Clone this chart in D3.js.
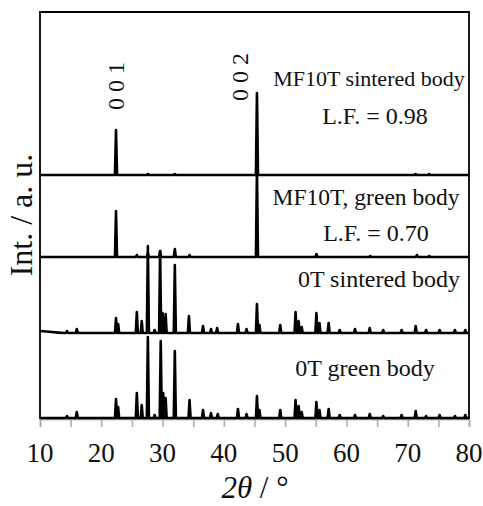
<!DOCTYPE html>
<html><head><meta charset="utf-8">
<script src="https://cdn.jsdelivr.net/npm/d3@7"></script>
<style>body{margin:0;background:#fff}svg{display:block}text{font-family:"Liberation Serif","Times New Roman",serif}</style>
</head><body>
<script>
// ---- data (2θ in degrees, intensity in a.u.) ----
const xTicks = [10, 20, 30, 40, 50, 60, 70, 80];
const xMinorTicks = [10,15,20,25,30,35,40,45,50,55,60,65,70,75,80];
const seriesNames = ["0T green body", "0T sintered body", "MF10T, green body", "MF10T sintered body"];
const seriesOffsets = [1, 86, 162, 244];
// peaks: [2θ, height]
const peaks0TGreen = [[14.4,2],[16.0,6],[22.4,19],[22.75,11],[25.8,25],[26.6,13],[27.6,81],[28.7,3],[29.7,77],[30.1,25],[30.5,20],[32.0,67],[34.4,18],[36.6,8],[37.9,5],[39.0,4],[42.3,9],[43.7,4],[45.4,22],[45.8,8],[49.2,8],[51.7,18],[52.2,12],[52.7,6],[55.1,16],[55.6,8],[57.1,9],[58.9,3],[61.4,3],[63.8,4],[66.0,2],[69.0,3],[71.3,7],[73.0,2],[75.2,3],[77.7,2],[79.4,3]];
const peaks0TSint = [[14.4,2],[16.0,4],[22.4,15],[22.75,9],[25.8,21],[26.6,12],[27.6,87],[28.7,3],[29.6,82],[30.0,20],[30.5,19],[32.0,68],[34.3,17],[36.6,7],[37.9,4],[38.9,5],[42.3,9],[43.7,4],[45.4,29],[45.8,8],[49.2,8],[51.7,21],[52.2,12],[52.7,6],[55.1,20],[55.6,10],[57.1,10],[58.9,3],[61.4,4],[63.8,5],[66.0,3],[69.0,3],[71.3,7],[73.0,3],[75.2,3],[77.7,3],[79.4,3]];
const rise0TSint = [[10,2],[11.5,1.2],[13,0.4],[14,0]];
const peaksMFGreen = [[22.4,46],[25.8,2],[27.6,4],[29.6,6],[32.0,8],[34.4,2],[45.4,88],[55.1,3],[63.9,1],[71.5,2],[73.5,1]];
const peaksMFSint = [[22.4,45],[27.6,1],[32.0,1],[45.4,82],[71.3,1],[73.5,1]];
const axisTitleX = ["2θ", " / °"];
const axisTitleY = "Int. / a. u.";
const labels = [
  {t:"MF10T sintered body", x:369, y:86, s:22},
  {t:"L.F. = 0.98", x:375, y:124, s:24},
  {t:"MF10T, green body", x:366, y:205, s:23.5},
  {t:"L.F. = 0.70", x:376, y:241, s:24},
  {t:"0T sintered body", x:379, y:287, s:24},
  {t:"0T green body", x:365, y:376, s:24}
];
const hklLabels = [{t:"0 0 1", pos:22.4}, {t:"0 0 2", pos:45.4}];

// ---- build vertex lists from peak lists ----
function toPoints(pk, start) {
  const hw = 0.17;
  let pts = start ? start.slice() : [[10,0]];
  pk.forEach(([p,h]) => { pts.push([p-hw,0],[p,h],[p+hw,0]); });
  pts.push([80,0]);
  return pts;
}
const traces = [
  toPoints(peaks0TGreen),
  toPoints(peaks0TSint, rise0TSint),
  toPoints(peaksMFGreen),
  toPoints(peaksMFSint)
];

const W = 483, H = 506;
const mL = 40, mR = 469, mT = 12, mB = 419;
const svg = d3.select("body").append("svg").attr("width", W).attr("height", H);
const x = d3.scaleLinear().domain([10, 80]).range([mL, mR]);
const y = d3.scaleLinear().domain([0, mB - mT]).range([mB, mT]);

// minor ticks
const xAxis = d3.axisBottom(x).tickValues(xMinorTicks).tickSize(8).tickFormat("");
const gx = svg.append("g").attr("transform", `translate(0,${mB})`).call(xAxis);
gx.select(".domain").attr("stroke", "#999").attr("stroke-width", 1.5);
gx.selectAll(".tick line").attr("stroke", "#aaa").attr("stroke-width", 1.5);
// tick labels
svg.append("g").selectAll("text").data(xTicks).join("text")
  .attr("x", d => x(d)).attr("y", 462).attr("text-anchor", "middle")
  .attr("font-size", 27).attr("fill", "#111").text(d => d);

// traces
const line = d3.line().x(d => x(d[0])).y(d => d[1]);
traces.forEach((pts, i) => {
  svg.append("path")
    .datum(pts.map(d => [d[0], y(d[1] + seriesOffsets[i])]))
    .attr("d", line).attr("fill", "none").attr("stroke", "#000")
    .attr("stroke-width", 2.6).attr("stroke-linejoin", "round");
});

// frame
svg.append("path").attr("d", `M${mL},${mB}V${mT}H${mR}V${mB}`)
  .attr("fill", "none").attr("stroke", "#000").attr("stroke-width", 1.8);

// labels
labels.forEach(l => svg.append("text").attr("x", l.x).attr("y", l.y)
  .attr("text-anchor", "middle").attr("font-size", l.s)
  .attr("fill", "#111").text(l.t));
const hklPos = [[124, 86], [248, 77]];
hklLabels.forEach((l, i) => svg.append("text")
  .attr("transform", `translate(${hklPos[i][0]},${hklPos[i][1]}) rotate(-90)`)
  .attr("text-anchor", "middle").attr("font-size", 24)
  .attr("fill", "#111").text(l.t));

// axis titles
const tx = svg.append("text").attr("x", 255).attr("y", 498).attr("text-anchor", "middle")
  .attr("font-size", 31).attr("fill", "#111");
tx.append("tspan").attr("font-style", "italic").text(axisTitleX[0]);
tx.append("tspan").text(axisTitleX[1]);
svg.append("text").attr("transform", "translate(32,215) rotate(-90)")
  .attr("text-anchor", "middle").attr("font-size", 32)
  .attr("fill", "#111").text(axisTitleY);
</script>
</body></html>
